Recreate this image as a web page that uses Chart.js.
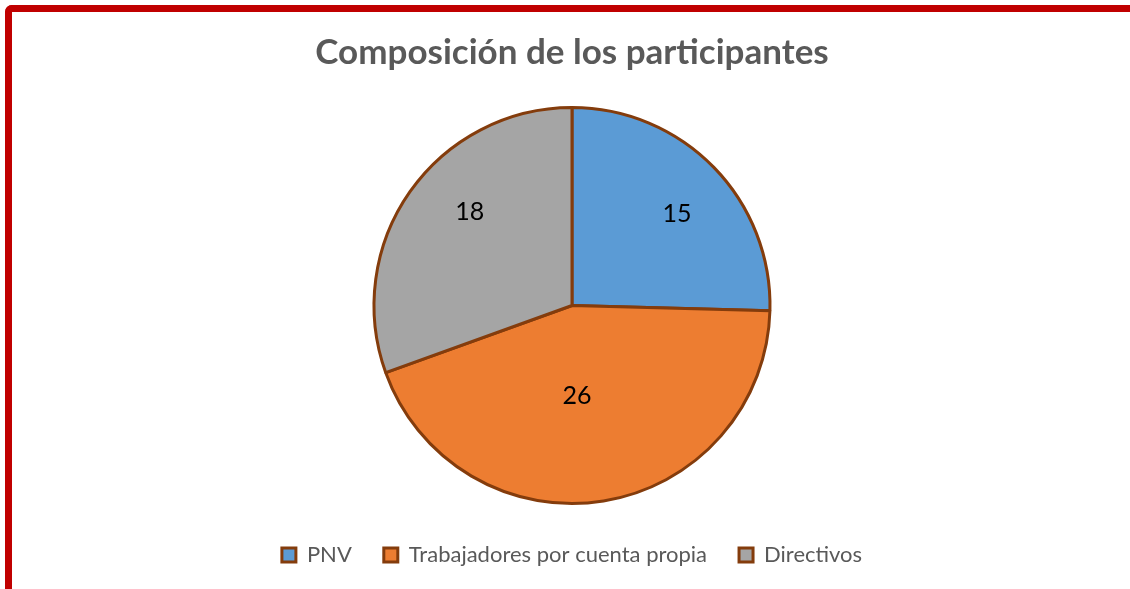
<!DOCTYPE html>
<html>
<head>
<meta charset="utf-8">
<script src="https://cdn.jsdelivr.net/npm/chart.js@4"></script>
<style>
  html, body { margin: 0; padding: 0; background: #fff; overflow: hidden; }
  #frame {
    position: absolute; left: 5px; top: 5px; width: 1140px; height: 600px;
    border-left: 7px solid #C00000; border-top: 7px solid #C00000;
    border-top-left-radius: 7px; box-sizing: border-box;
  }
  #wrap { position: absolute; left: 0; top: 0; width: 1130px; height: 589px; }
</style>
</head>
<body>
<div id="frame"></div>
<div id="wrap"><canvas id="pieChart"></canvas></div>
<script>
const categories = ['PNV', 'Trabajadores por cuenta propia', 'Directivos'];
const participants = [15, 26, 18];
const sliceColors = ['#5B9BD5', '#ED7D31', '#A5A5A5'];
// posición de cada etiqueta: distancia relativa al centro y giro en grados
const labelRadius = [0.705, 0.455, 0.70];
const labelTurn = [3, 6, 7.3];

// etiquetas de valor dentro de cada porción
const valueLabels = {
    id: 'valueLabels',
    afterDatasetsDraw(chart) {
        const ctx = chart.ctx;
        const meta = chart.getDatasetMeta(0);
        ctx.save();
        ctx.font = '25px Lato, "Open Sans", sans-serif';
        ctx.fillStyle = '#000';
        ctx.textAlign = 'center';
        ctx.textBaseline = 'middle';
        meta.data.forEach(function(arc, i) {
            const mid = (arc.startAngle + arc.endAngle) / 2 + labelTurn[i] * Math.PI / 180;
            const r = arc.outerRadius * labelRadius[i];
            ctx.fillText(String(participants[i]), arc.x + Math.cos(mid) * r, arc.y + Math.sin(mid) * r);
        });
        ctx.restore();
    }
};

var ctx = document.getElementById('pieChart').getContext('2d');
var pieChart = new Chart(ctx, {
    type: 'pie',
    data: {
        labels: categories,
        datasets: [{
            data: participants,
            backgroundColor: sliceColors,
            borderColor: '#843C0C',
            borderWidth: 3
        }]
    },
    options: {
        responsive: true,
        maintainAspectRatio: false,
        animation: false,
        radius: 198,
        layout: { padding: { left: 14, top: 0, bottom: 13 } },
        plugins: {
            title: {
                display: true,
                text: 'Composición de los participantes',
                color: '#595959',
                font: { family: 'Lato, "Open Sans", sans-serif', size: 35, weight: 'bold' },
                padding: { top: 32, bottom: 25 }
            },
            legend: {
                position: 'bottom',
                labels: {
                    color: '#595959',
                    font: { family: 'Lato, "Open Sans", sans-serif', size: 22 },
                    boxWidth: 14,
                    boxHeight: 14,
                    padding: 32
                }
            },
            tooltip: { enabled: false }
        }
    },
    plugins: [valueLabels]
});
</script>
</body>
</html>
